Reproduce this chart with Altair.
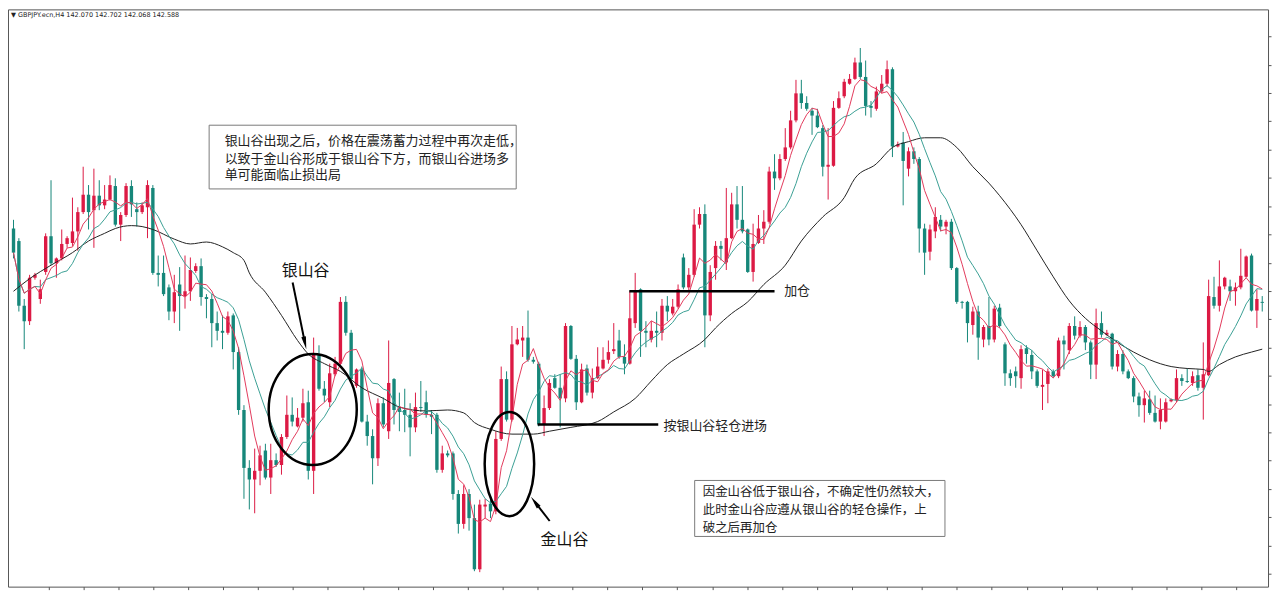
import altair as alt
import pandas as pd
import numpy as np

# ---------------- data (GBPJPY H4) ----------------
opens = [143.73,143.60,142.93,142.77,143.22,143.00,143.28,143.65,143.37,143.42,
143.57,143.58,143.70,143.90,144.08,143.92,144.07,143.97,144.03,144.17,
143.77,143.87,144.17,143.93,143.90,143.95,144.15,143.27,143.27,143.12,
142.87,143.15,143.03,143.08,143.29,143.34,143.02,143.00,142.75,142.67,
142.65,142.83,142.45,141.85,141.25,141.13,141.22,141.43,141.15,141.33,
141.28,141.57,141.80,141.68,141.77,141.93,141.22,142.42,142.07,141.93,
142.22,142.33,142.97,142.65,142.10,142.27,141.73,141.58,141.35,141.92,
141.63,142.17,141.87,141.85,141.80,141.67,141.88,141.93,141.80,141.80,
141.23,141.40,141.40,140.98,140.67,140.98,140.73,140.20,140.85,140.88,
140.80,141.55,142.17,141.75,142.53,142.57,142.60,142.37,142.33,141.70,
141.87,142.18,142.08,141.97,142.72,142.38,141.93,142.28,142.03,142.18,
142.28,142.37,142.46,142.57,142.40,142.33,142.75,143.10,142.67,142.58,
142.67,142.65,142.93,142.85,142.92,143.43,143.12,143.25,143.77,143.88,
142.83,143.32,143.55,143.38,143.63,143.98,143.82,143.72,143.28,143.58,
143.73,143.80,144.32,144.25,144.45,144.57,144.85,145.13,145.03,144.95,
144.90,144.77,144.37,144.38,144.98,145.10,145.23,145.28,145.45,145.30,
145.00,144.97,145.15,145.23,145.38,144.58,144.62,144.35,144.53,144.45,
143.73,143.49,143.70,143.82,143.75,143.80,143.32,142.97,142.97,142.73,
142.87,142.58,142.72,142.58,142.91,142.53,142.23,142.25,142.18,142.49,
142.42,142.25,142.09,142.12,142.25,142.20,142.57,142.47,142.72,142.62,
142.71,142.55,142.32,142.75,142.63,142.64,142.30,142.43,142.25,142.18,
141.99,141.90,141.96,141.82,141.73,141.73,141.94,141.95,142.18,142.15,
142.13,142.21,142.08,142.21,143.02,142.93,143.13,143.13,143.08,143.12,
143.23,143.45,142.88,142.97]

closes = [143.48,142.93,142.77,143.22,143.25,143.10,143.65,143.37,143.42,143.57,
143.63,143.70,143.90,144.08,143.90,144.07,143.97,144.03,144.18,143.77,
143.87,144.17,143.98,143.90,143.97,144.18,143.27,143.25,143.05,142.87,
143.07,143.03,143.08,143.30,143.34,143.02,143.00,142.75,142.67,142.65,
142.82,142.45,141.85,141.25,141.13,141.22,141.38,141.15,141.33,141.28,
141.57,141.80,141.73,141.77,141.92,141.22,142.43,142.07,142.00,142.23,
142.33,142.97,142.65,142.17,142.27,141.73,141.58,141.35,141.92,141.70,
142.13,141.85,141.83,141.80,141.67,141.88,141.87,141.80,141.78,141.23,
141.40,141.38,140.98,140.67,140.98,140.73,140.20,140.87,140.87,140.80,
141.55,142.17,141.75,142.53,142.58,142.60,142.37,142.35,141.70,141.87,
142.13,142.08,141.97,142.72,142.38,141.93,142.27,142.03,142.18,142.30,
142.37,142.45,142.48,142.40,142.33,142.80,143.08,142.67,142.65,142.67,
142.65,142.93,142.87,142.92,143.10,143.12,143.25,143.77,143.88,142.83,
143.28,143.55,143.52,143.63,143.98,143.82,143.70,143.28,143.57,143.73,
143.80,144.32,144.25,144.45,144.57,144.85,145.13,145.03,144.97,144.90,
144.78,144.37,144.39,144.98,145.08,145.25,145.28,145.45,145.30,145.00,
144.98,145.15,145.23,145.38,144.58,144.60,144.43,144.53,144.45,143.73,
143.48,143.72,143.85,143.75,143.80,143.32,142.97,142.96,142.75,142.87,
142.60,142.71,142.58,142.90,142.72,142.23,142.18,142.20,142.48,142.43,
142.25,142.10,142.11,142.25,142.20,142.57,142.53,142.72,142.62,142.71,
142.55,142.32,142.75,142.63,142.65,142.30,142.43,142.25,142.18,141.99,
141.90,141.97,141.82,141.73,141.85,141.93,141.96,142.18,142.15,142.14,
142.20,142.08,142.22,143.03,142.93,143.13,143.22,143.08,143.12,143.24,
143.44,142.88,143.00,142.96]

highs = [143.82,143.63,143.00,143.25,143.27,143.20,143.68,144.23,143.43,143.72,
143.65,144.05,143.95,144.37,144.18,144.35,144.23,144.18,144.28,144.25,
143.90,144.20,144.23,144.00,144.00,144.23,144.18,143.45,143.45,143.15,
143.25,143.33,143.45,143.43,143.37,143.42,143.05,143.05,142.87,142.83,
142.87,142.85,142.50,141.90,141.33,141.45,141.48,141.50,141.50,141.40,
141.60,142.00,141.98,141.87,142.07,142.05,142.60,142.52,142.15,142.33,
142.40,143.02,143.03,142.68,142.28,142.30,141.80,141.65,141.97,141.98,
142.57,142.18,142.03,142.07,141.92,142.03,142.15,142.05,141.85,141.82,
141.48,141.43,141.42,141.02,141.07,141.03,140.87,140.92,140.93,140.93,
141.63,142.30,142.25,142.72,142.70,142.72,142.88,142.40,142.35,142.00,
142.17,142.22,142.22,142.75,142.73,142.42,142.33,142.32,142.28,142.50,
142.50,142.57,142.75,142.68,142.53,143.08,143.27,143.11,142.77,142.77,
142.87,143.00,143.03,143.00,143.15,143.47,143.32,143.93,143.95,143.98,
143.35,143.60,143.60,144.15,144.10,144.17,144.17,143.73,143.78,143.87,
143.92,144.37,144.50,144.50,144.77,144.95,145.27,145.27,145.10,144.98,
144.97,144.80,144.77,145.05,145.15,145.28,145.33,145.50,145.60,145.47,
145.05,145.20,145.32,145.47,145.40,144.63,144.73,144.57,144.57,144.47,
143.78,143.77,143.95,143.87,143.82,143.83,143.33,142.98,142.98,142.92,
142.93,142.73,143.02,142.93,142.95,142.55,142.27,142.30,142.52,142.52,
142.47,142.27,142.27,142.28,142.27,142.60,142.62,142.75,142.82,142.77,
142.73,142.57,142.90,142.87,142.68,142.65,142.47,142.47,142.27,142.20,
142.03,142.05,142.05,142.00,141.97,141.97,141.97,142.27,142.22,142.28,
142.25,142.27,142.55,143.20,143.23,143.40,143.23,143.20,143.17,143.52,
143.45,143.47,143.10,143.03]

lows = [143.42,142.87,142.48,142.73,143.20,142.95,143.25,143.35,143.22,143.40,
143.53,143.55,143.50,143.88,143.72,143.53,143.92,143.93,144.02,143.75,
143.60,143.85,143.85,143.75,143.88,143.63,143.25,143.13,143.03,142.78,
142.75,142.67,142.90,142.98,143.27,142.93,142.80,142.50,142.57,142.48,
142.63,142.27,141.80,140.93,140.82,140.78,141.07,141.13,140.98,141.26,
141.18,141.55,141.68,141.67,141.73,141.13,140.98,142.05,141.93,141.88,
142.20,142.30,142.62,142.15,142.08,141.72,141.48,141.08,141.27,141.67,
141.55,141.70,141.63,141.62,141.37,141.62,141.83,141.77,141.60,141.20,
141.20,141.36,140.92,140.57,140.62,140.60,140.18,140.17,140.73,140.73,
140.77,141.53,141.73,141.73,142.52,142.40,142.35,142.33,141.68,141.58,
141.85,142.07,141.67,141.93,142.37,141.85,141.92,142.00,141.97,142.17,
142.27,142.33,142.43,142.38,142.22,142.32,142.70,142.40,142.50,142.55,
142.50,142.57,142.77,142.83,142.90,143.10,143.08,143.23,143.73,142.50,
142.77,143.20,143.40,143.30,143.62,143.73,143.68,143.27,143.18,143.57,
143.57,143.78,144.13,144.23,144.43,144.55,144.83,144.97,144.95,144.70,
144.77,144.27,144.03,144.37,144.97,145.08,145.22,145.27,145.28,144.90,
144.88,144.95,145.13,145.20,144.47,144.57,143.97,144.27,144.40,143.48,
143.25,143.40,143.63,143.70,143.67,143.30,142.95,142.90,142.55,142.63,
142.37,142.50,142.52,142.55,142.70,142.10,142.10,142.08,142.07,142.33,
142.17,142.08,141.85,141.92,142.18,142.18,142.27,142.43,142.58,142.60,
142.47,142.17,142.17,142.60,142.62,142.27,142.25,142.22,142.17,141.93,
141.78,141.72,141.80,141.72,141.65,141.72,141.93,141.93,142.10,142.13,
142.10,142.05,141.75,142.20,142.90,142.87,143.10,142.98,142.93,143.10,
143.22,142.87,142.70,142.87]

# slow moving average (black line), read at selected bars
slow_ma_idx = [0,3,7,11,14,17,19,22,24,26,30,33,36,39,41,43,44,47,50,53,
55,58,61,65,69,72,77,81,84,86,89,93,97,100,104,109,112,116,119,122,
125,129,131,134,137,140,144,147,151,155,157,161,164,167,170,173,176,179,182,184,
188,191,194,197,200,203,206,209,212,216,219,222,223,225,228,231,233]
slow_ma_val = [143.08,143.21,143.35,143.48,143.60,143.68,143.73,143.76,143.75,143.72,
143.62,143.57,143.59,143.54,143.48,143.40,143.27,143.07,142.83,142.57,
142.43,142.33,142.25,142.08,141.97,141.88,141.84,141.85,141.82,141.72,
141.65,141.60,141.60,141.63,141.67,141.73,141.83,141.97,142.15,142.32,
142.43,142.58,142.70,142.85,142.97,143.15,143.35,143.60,143.85,144.05,
144.25,144.40,144.57,144.63,144.67,144.67,144.57,144.37,144.20,144.07,
143.77,143.50,143.23,142.98,142.80,142.67,142.55,142.45,142.37,142.30,
142.28,142.27,142.25,142.32,142.40,142.45,142.48]

header_text = "▼ GBPJPY.ecn,H4  142.070 142.702 142.068 142.588"
note1_lines = ["银山谷出现之后，价格在震荡蓄力过程中再次走低，",
               "以致于金山谷形成于银山谷下方，而银山谷进场多",
               "单可能面临止损出局"]
note2_lines = ["因金山谷低于银山谷，不确定性仍然较大，",
               "此时金山谷应遵从银山谷的轻仓操作，上",
               "破之后再加仓"]

# ---------------- layout ----------------
W, H = 1266, 580
XMIN, XMAX = -0.1, 233.15
YMIN, YMAX = 140.02, 146.0
px_idx = W / (XMAX - XMIN)
px_price = H / (YMAX - YMIN)

UP, DOWN = "#dc1a44", "#16877a"
CJK = "Noto Sans CJK SC"

df = pd.DataFrame({"idx": np.arange(len(opens)), "open": opens, "high": highs,
                   "low": lows, "close": closes})
df["dir"] = np.where(df["close"] >= df["open"], "up", "down")
slow_df = pd.DataFrame({"idx": slow_ma_idx, "ma": slow_ma_val})

xs = alt.Scale(domain=[XMIN, XMAX], nice=False, zero=False)
ys = alt.Scale(domain=[YMIN, YMAX], nice=False, zero=False)
xticks = [round(6.5 + 6.52 * k, 2) for k in range(36) if 6.5 + 6.52 * k < XMAX]
yticks = [round(145.72 - 0.293 * k, 3) for k in range(21) if 145.72 - 0.293 * k > YMIN]
xaxis = alt.Axis(orient="bottom", labels=False, ticks=True, tickSize=3, domain=False,
                 grid=False, title=None, values=xticks, tickColor="#555")
yaxis = alt.Axis(orient="right", labels=False, ticks=True, tickSize=3, domain=False,
                 grid=False, title=None, values=yticks, tickColor="#555")


def X(f):
    return alt.X(f, scale=xs, axis=xaxis)


def Y(f):
    return alt.Y(f, scale=ys, axis=yaxis)


cscale = alt.Scale(domain=["up", "down"], range=[UP, DOWN])

base = alt.Chart(df)
wicks = base.mark_rule(strokeWidth=1).encode(
    x=X("idx:Q"), y=Y("low:Q"), y2="high:Q",
    color=alt.Color("dir:N", scale=cscale, legend=None))
bodies = base.mark_bar(size=3.4).encode(
    x=X("idx:Q"), y=Y("open:Q"), y2="close:Q",
    color=alt.Color("dir:N", scale=cscale, legend=None))

ma_fast = base.transform_window(
    ma5="mean(close)", frame=[-4, 0], sort=[alt.SortField("idx")]
).mark_line(color="#e23a5c", strokeWidth=1).encode(x=X("idx:Q"), y=Y("ma5:Q"))
ma_mid = base.transform_window(
    ma10="mean(close)", frame=[-9, 0], sort=[alt.SortField("idx")]
).mark_line(color="#3a9f94", strokeWidth=1).encode(x=X("idx:Q"), y=Y("ma10:Q"))
ma_slow = alt.Chart(slow_df).mark_line(color="#222222", strokeWidth=1,
                                       interpolate="monotone").encode(
    x=X("idx:Q"), y=Y("ma:Q"))

# ---------------- annotations ----------------
boxes = alt.Chart(pd.DataFrame({"x1": [36.5, 127.1], "x2": [93.8, 173.8],
                                "y1": [144.80, 141.12], "y2": [144.14, 140.54]})
                  ).mark_rect(fill="white", stroke="#7a7a7a", strokeWidth=1).encode(
    x=X("x1:Q"), x2="x2:Q", y=Y("y1:Q"), y2="y2:Q")

note1 = alt.Chart(pd.DataFrame({"x": [39.4] * 3, "y": [144.64, 144.455, 144.28],
                                "t": note1_lines})).mark_text(
    align="left", baseline="middle", font=CJK, fontSize=13, color="#222").encode(
    x=X("x:Q"), y=Y("y:Q"), text="t:N")
note2 = alt.Chart(pd.DataFrame({"x": [128.6] * 3, "y": [141.00, 140.81, 140.63],
                                "t": note2_lines})).mark_text(
    align="left", baseline="middle", font=CJK, fontSize=12.5, color="#222").encode(
    x=X("x:Q"), y=Y("y:Q"), text="t:N")

big_labels = alt.Chart(pd.DataFrame({"x": [54.5, 102.8], "y": [143.29, 140.50],
                                     "t": ["银山谷", "金山谷"]})).mark_text(
    align="center", baseline="middle", font=CJK, fontSize=16, color="#111").encode(
    x=X("x:Q"), y=Y("y:Q"), text="t:N")
line_labels = alt.Chart(pd.DataFrame({"x": [121.3, 143.8], "y": [141.68, 143.08],
                                      "t": ["按银山谷轻仓进场", "加仓"]})).mark_text(
    align="left", baseline="middle", font=CJK, fontSize=13, color="#222").encode(
    x=X("x:Q"), y=Y("y:Q"), text="t:N")

hlines = alt.Chart(pd.DataFrame({"x1": [114.9, 97.8], "x2": [142.0, 120.3],
                                 "y": [143.08, 141.70]})).mark_rule(
    strokeWidth=2.5, color="black").encode(x=X("x1:Q"), x2="x2:Q", y=Y("y:Q"))

shafts = alt.Chart(pd.DataFrame({"x1": [52.08, 100.04], "x2": [54.38, 97.27],
                                 "y1": [143.17, 140.70], "y2": [142.544, 140.898]})
                   ).mark_rule(strokeWidth=2, color="black").encode(
    x=X("x1:Q"), x2="x2:Q", y=Y("y1:Q"), y2="y2:Q")

arrow_path = "M0,-1L0.36,1L-0.36,1Z"
heads = alt.Chart(pd.DataFrame({"x": [54.38, 97.27], "y": [142.544, 140.898],
                                "ang": [168, 323]})).mark_point(
    shape=arrow_path, filled=True, color="black", opacity=1, size=170).encode(
    x=X("x:Q"), y=Y("y:Q"), angle=alt.Angle("ang:Q", scale=None))


def ellipse(cx, cy, rx, ry):
    rxp, ryp = rx * px_idx, ry * px_price
    r = rxp / ryp
    path = f"M{-r:.4f},0A{r:.4f},1 0 1,1 {r:.4f},0A{r:.4f},1 0 1,1 {-r:.4f},0Z"
    return alt.Chart(pd.DataFrame({"x": [cx], "y": [cy]})).mark_point(
        shape=path, filled=False, stroke="black", strokeWidth=2.5, opacity=1,
        size=(2 * ryp) ** 2).encode(x=X("x:Q"), y=Y("y:Q"))


ell1 = ellipse(55.83, 141.855, 8.15, 0.575)
ell2 = ellipse(92.53, 141.29, 4.58, 0.54)

header = alt.Chart(pd.DataFrame({"t": [header_text]})).mark_text(
    align="left", baseline="middle", font="DejaVu Sans", fontSize=6.5,
    color="#222").encode(x=alt.value(3), y=alt.value(6), text="t:N")

chart = alt.layer(
    wicks, bodies, ma_slow, ma_mid, ma_fast,
    hlines, shafts, heads, ell1, ell2,
    boxes, note1, note2, big_labels, line_labels, header
).properties(
    width=W, height=H,
    padding={"left": 0, "top": 0, "right": 0, "bottom": 0},
    background="white"
).configure_view(stroke="#555555", strokeWidth=1)

chart.save("out.html", embed_options={"renderer": "svg", "actions": False})
